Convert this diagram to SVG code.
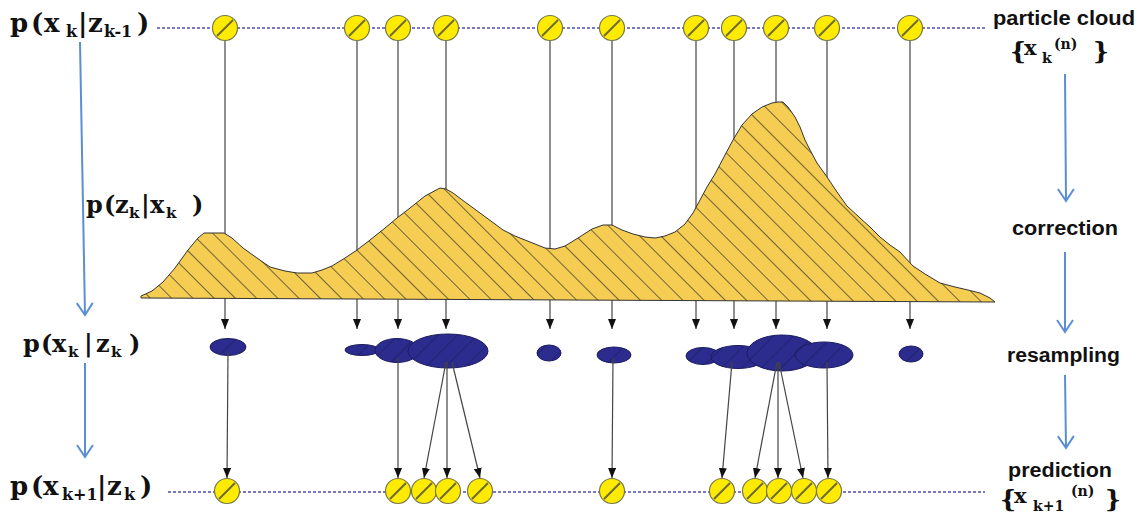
<svg xmlns="http://www.w3.org/2000/svg" xmlns:xlink="http://www.w3.org/1999/xlink" width="1141" height="517" viewBox="0 0 1141 517">
<style>
.lbl{font-family:"DejaVu Serif","Liberation Serif",serif;font-weight:bold;fill:#111;}
.m{font-size:26px;}
.m2{font-size:24px;}
.s{font-size:16px;}
.s3{font-size:15px;}
.r{font-size:21px;}
.s2{font-size:14px;}
.br{font-size:25px;}
.side{font-family:"Liberation Sans","DejaVu Sans",sans-serif;font-weight:bold;font-size:20px;fill:#111;}
.dot{stroke:#4d4db0;stroke-width:1.3;stroke-dasharray:3 2;fill:none;}
.arr{stroke:#444;stroke-width:1.2;fill:none;marker-end:url(#ah);}
.blue{stroke:#5b8fd4;stroke-width:2;fill:none;marker-end:url(#bh);}
.ell{fill:url(#ehatch);stroke:#1c1c5e;stroke-width:1;}
</style>
<defs>
<marker id="ah" markerUnits="userSpaceOnUse" markerWidth="10" markerHeight="8" refX="10" refY="4" orient="auto">
<path d="M0,0 L10,4 L0,8 z" fill="#111"/>
</marker>
<marker id="bh" markerUnits="userSpaceOnUse" markerWidth="16" markerHeight="20" refX="13" refY="9" orient="auto">
<path d="M1,1 L13,9 L1,17" fill="none" stroke="#5b8fd4" stroke-width="2"/>
</marker>
<pattern id="chatch" patternUnits="userSpaceOnUse" width="15" height="15" patternTransform="rotate(-45)">
<rect width="15" height="15" fill="#f5cd52"/>
<line x1="0" y1="0" x2="0" y2="15" stroke="#2a2a2a" stroke-width="1.3"/>
</pattern>
<pattern id="ehatch" patternUnits="userSpaceOnUse" width="14" height="14" patternTransform="rotate(45)">
<rect width="14" height="14" fill="#2b2c8e"/>
<line x1="0" y1="0" x2="0" y2="14" stroke="#16164a" stroke-width="1.2" opacity="0.8"/>
</pattern>
<g id="pt">
<circle r="12.5" fill="#ffeb00" stroke="#77774a" stroke-width="1.2"/>
<line x1="-8" y1="8" x2="8" y2="-8" stroke="#6b6b3a" stroke-width="2"/>
</g>
</defs>
<rect width="1141" height="517" fill="#ffffff"/>

<g id="connectors">
<line class="dot" x1="157" y1="28" x2="985" y2="28"/>
<line class="dot" x1="168" y1="492" x2="985" y2="492"/>
<line class="arr" x1="225" y1="40" x2="225" y2="329"/>
<line class="arr" x1="357" y1="40" x2="357" y2="329"/>
<line class="arr" x1="398" y1="40" x2="398" y2="329"/>
<line class="arr" x1="446" y1="40" x2="446" y2="329"/>
<line class="arr" x1="550" y1="40" x2="550" y2="329"/>
<line class="arr" x1="612" y1="40" x2="612" y2="329"/>
<line class="arr" x1="696" y1="40" x2="696" y2="329"/>
<line class="arr" x1="734" y1="40" x2="734" y2="329"/>
<line class="arr" x1="776" y1="40" x2="776" y2="329"/>
<line class="arr" x1="827" y1="40" x2="827" y2="329"/>
<line class="arr" x1="910" y1="40" x2="910" y2="329"/>
<line class="blue" x1="80" y1="42" x2="85" y2="315"/>
<line class="blue" x1="85" y1="363" x2="85" y2="457"/>
<line class="blue" x1="1065" y1="74" x2="1066" y2="201"/>
<line class="blue" x1="1065" y1="252" x2="1065" y2="332"/>
<line class="blue" x1="1065" y1="375" x2="1066" y2="448"/>
</g>

<g id="likelihood">
<path d="M141,296 L152,291 L163,282 L175,268 L188,250 L198,238 L204,233 L224,233 L232,238 L243,248 L257,258 L270,267 L285,271 L297,273 L312,273 L322,270 L332,266 L345,258 L357,250 L370,240 L385,228 L397,218 L410,208 L425,196 L440,188 L446,189 L453,193 L465,202 L480,213 L495,224 L503,230 L515,236 L530,242 L545,248 L555,249 L565,246 L578,238 L592,229 L603,225 L612,225 L622,230 L633,234 L645,237 L655,238 L665,236 L675,232 L685,224 L693,213 L700,200 L707,187 L715,174 L725,155 L733,140 L742,125 L752,114 L762,107 L772,103 L778,102 L783,102 L788,107 L795,117 L800,127 L805,140 L810,150 L817,163 L827,177 L837,192 L847,206 L860,218 L870,227 L880,237 L890,245 L900,252 L913,266 L925,274 L940,283 L955,287 L968,290 L980,293 L990,298 L995,302 L141,298 Z" fill="url(#chatch)" stroke="#333" stroke-width="1"/>
</g>

<g id="resampled">
<ellipse class="ell" cx="228" cy="347" rx="18" ry="8.5"/>
<ellipse class="ell" cx="362" cy="350" rx="17" ry="5.5"/>
<ellipse class="ell" cx="397" cy="350.5" rx="22" ry="12"/>
<ellipse class="ell" cx="448" cy="351" rx="40" ry="17"/>
<ellipse class="ell" cx="549" cy="353" rx="12" ry="8"/>
<ellipse class="ell" cx="614" cy="355" rx="17" ry="8"/>
<ellipse class="ell" cx="703" cy="356" rx="17" ry="8.5"/>
<ellipse class="ell" cx="738" cy="357" rx="27" ry="11.5"/>
<ellipse class="ell" cx="782" cy="353" rx="35" ry="18"/>
<ellipse class="ell" cx="824" cy="355" rx="29" ry="13"/>
<ellipse class="ell" cx="911" cy="354" rx="12" ry="8"/>
</g>

<g id="prediction-links">
<line class="arr" x1="228" y1="352" x2="227" y2="478"/>
<line class="arr" x1="398" y1="358" x2="398" y2="478"/>
<line class="arr" x1="446" y1="362" x2="424" y2="478"/>
<line class="arr" x1="447" y1="362" x2="447" y2="478"/>
<line class="arr" x1="452" y1="362" x2="480" y2="478"/>
<line class="arr" x1="613" y1="358" x2="612" y2="478"/>
<line class="arr" x1="732" y1="362" x2="722" y2="478"/>
<line class="arr" x1="777" y1="362" x2="755" y2="478"/>
<line class="arr" x1="778" y1="362" x2="778" y2="478"/>
<line class="arr" x1="779" y1="362" x2="803" y2="478"/>
<line class="arr" x1="827" y1="362" x2="828" y2="478"/>
</g>

<g id="prior-particles">
<use xlink:href="#pt" href="#pt" x="225" y="28"/>
<use xlink:href="#pt" href="#pt" x="357" y="28"/>
<use xlink:href="#pt" href="#pt" x="398" y="28"/>
<use xlink:href="#pt" href="#pt" x="446" y="28"/>
<use xlink:href="#pt" href="#pt" x="550" y="28"/>
<use xlink:href="#pt" href="#pt" x="612" y="28"/>
<use xlink:href="#pt" href="#pt" x="696" y="28"/>
<use xlink:href="#pt" href="#pt" x="734" y="28"/>
<use xlink:href="#pt" href="#pt" x="776" y="28"/>
<use xlink:href="#pt" href="#pt" x="827" y="28"/>
<use xlink:href="#pt" href="#pt" x="910" y="28"/>
</g>

<g id="predicted-particles">
<use xlink:href="#pt" href="#pt" x="227" y="491"/>
<use xlink:href="#pt" href="#pt" x="398" y="491"/>
<use xlink:href="#pt" href="#pt" x="424" y="491"/>
<use xlink:href="#pt" href="#pt" x="448" y="491"/>
<use xlink:href="#pt" href="#pt" x="480" y="491"/>
<use xlink:href="#pt" href="#pt" x="612" y="491"/>
<use xlink:href="#pt" href="#pt" x="722" y="491"/>
<use xlink:href="#pt" href="#pt" x="755" y="491"/>
<use xlink:href="#pt" href="#pt" x="779" y="491"/>
<use xlink:href="#pt" href="#pt" x="804" y="491"/>
<use xlink:href="#pt" href="#pt" x="829" y="491"/>
</g>

<g id="label-prior">
<text class="lbl"><tspan class="m" x="10" y="32">p</tspan><tspan class="m" x="31" y="32">(</tspan><tspan class="m" x="44" y="32">x</tspan><tspan class="s" x="66" y="37">k</tspan><tspan class="m" x="78" y="32">|</tspan><tspan class="m" x="88" y="32">z</tspan><tspan class="s" x="104" y="37">k-1</tspan><tspan class="m" x="137" y="32">)</tspan></text>
</g>
<g id="label-likelihood">
<text class="lbl"><tspan class="m2" x="86" y="213">p</tspan><tspan class="m2" x="104" y="213">(</tspan><tspan class="m2" x="115" y="213">z</tspan><tspan class="s3" x="129" y="218">k</tspan><tspan class="m2" x="141" y="213">|</tspan><tspan class="m2" x="150" y="213">x</tspan><tspan class="s3" x="166" y="218">k</tspan><tspan class="m2" x="192" y="213">)</tspan></text>
</g>
<g id="label-posterior">
<text class="lbl"><tspan class="m2" x="23" y="352">p</tspan><tspan class="m2" x="41" y="352">(</tspan><tspan class="m2" x="52" y="352">x</tspan><tspan class="s3" x="68" y="357">k</tspan><tspan class="m2" x="84" y="352">|</tspan><tspan class="m2" x="96" y="352">z</tspan><tspan class="s3" x="111" y="357">k</tspan><tspan class="m2" x="129" y="352">)</tspan></text>
</g>
<g id="label-predictive">
<text class="lbl"><tspan class="m" x="10" y="495">p</tspan><tspan class="m" x="31" y="495">(</tspan><tspan class="m" x="43" y="495">x</tspan><tspan class="s" x="62" y="500">k+1</tspan><tspan class="m" x="97" y="495">|</tspan><tspan class="m" x="107" y="495">z</tspan><tspan class="s" x="124" y="500">k</tspan><tspan class="m" x="140" y="495">)</tspan></text>
</g>

<g id="label-cloud">
<text class="side" x="993" y="25" textLength="142" lengthAdjust="spacingAndGlyphs">particle cloud</text>
<text class="lbl"><tspan class="br" x="1010" y="60">{</tspan><tspan class="r" x="1024" y="55">x</tspan><tspan class="s2" x="1042" y="63">k</tspan><tspan class="s2" x="1054" y="49">(n)</tspan><tspan class="br" x="1093" y="60">}</tspan></text>
</g>
<g id="label-correction">
<text class="side" x="1012" y="235" textLength="106" lengthAdjust="spacingAndGlyphs">correction</text>
</g>
<g id="label-resampling">
<text class="side" x="1007" y="362" textLength="113" lengthAdjust="spacingAndGlyphs">resampling</text>
</g>
<g id="label-prediction">
<text class="side" x="1008" y="477" textLength="104" lengthAdjust="spacingAndGlyphs">prediction</text>
<text class="lbl"><tspan class="br" x="1000" y="508">{</tspan><tspan class="r" x="1014" y="503">x</tspan><tspan class="s2" x="1033" y="511">k+1</tspan><tspan class="s2" x="1071" y="496">(n)</tspan><tspan class="br" x="1105" y="508">}</tspan></text>
</g>
</svg>
